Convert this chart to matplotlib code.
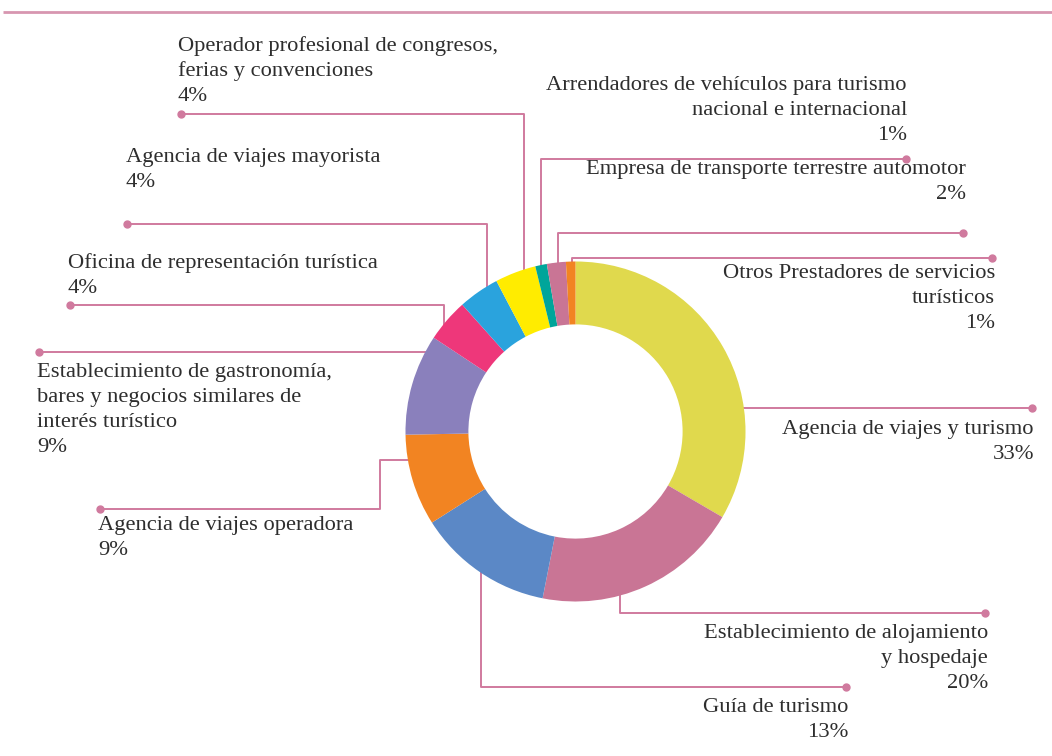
import numpy as np
import matplotlib
matplotlib.use("Agg")
import matplotlib.pyplot as plt

# slice shares (labels show the rounded figures)
categories = [
    "Agencia de viajes y turismo",
    "Establecimiento de alojamiento y hospedaje",
    "Guía de turismo",
    "Agencia de viajes operadora",
    "Establecimiento de gastronomía, bares y negocios similares de interés turístico",
    "Oficina de representación turística",
    "Agencia de viajes mayorista",
    "Operador profesional de congresos, ferias y convenciones",
    "Arrendadores de vehículos para turismo nacional e internacional",
    "Empresa de transporte terrestre automotor",
    "Otros Prestadores de servicios turísticos",
]
shares = [33.4, 19.7, 12.9, 8.7, 9.6, 4.1, 3.9, 3.9, 1.1, 1.8, 0.9]
pct_labels = ["33%", "20%", "13%", "9%", "9%", "4%", "4%", "4%", "1%", "2%", "1%"]

# label text broken the way it is set on the page
label_lines = [
    ["Agencia de viajes y turismo"],
    ["Establecimiento de alojamiento", "y hospedaje"],
    ["Guía de turismo"],
    ["Agencia de viajes operadora"],
    ["Establecimiento de gastronomía,", "bares y negocios similares de", "interés turístico"],
    ["Oficina de representación turística"],
    ["Agencia de viajes mayorista"],
    ["Operador profesional de congresos,", "ferias y convenciones"],
    ["Arrendadores de vehículos para turismo", "nacional e internacional"],
    ["Empresa de transporte terrestre automotor"],
    ["Otros Prestadores de servicios", "turísticos"],
]

colors = ["#E0D94D", "#C97595", "#5B88C6", "#F28422", "#8A80BC", "#EE377A",
          "#2AA3DD", "#FFEC00", "#00A59A", "#C97595", "#F28422"]

LINE = "#D07A9E"
TXT = "#2E2E2E"
cx, cy, R = 575.5, 431.5, 170
ring_w = 0.37

fig = plt.figure(figsize=(10.52, 7.56), dpi=100)
ax = fig.add_axes([0, 0, 1, 1])

ax.pie(shares, colors=colors, center=(cx, cy), radius=R, startangle=-90,
       counterclock=True, wedgeprops=dict(width=R * ring_w, linewidth=0))

ax.set_xlim(0, 1052)
ax.set_ylim(756, 0)
ax.set_aspect("equal")
ax.axis("off")

# top rule
ax.plot([3, 1052], [12, 12], color="#D796B0", lw=2, solid_capstyle="butt")


def edge_v(x, side):
    # y where a vertical line at x meets the outer edge
    return cy + side * np.sqrt(R ** 2 - (x - cx) ** 2)


def edge_h(y, side):
    return cx + side * np.sqrt(R ** 2 - (y - cy) ** 2)


# leader paths: (points, text anchor x, first baseline, ha)
leaders = [
    ([(edge_h(408, 1), 408), (1032, 408)], 1034, 434, "right"),
    ([(620, edge_v(620, 1)), (620, 613), (985, 613)], 988, 638, "right"),
    ([(481, edge_v(481, 1)), (481, 687), (846, 687)], 848, 712, "right"),
    ([(edge_h(460, -1), 460), (380, 460), (380, 509), (100, 509)], 98, 530, "left"),
    ([(edge_h(352, -1), 352), (39, 352)], 37, 377, "left"),
    ([(444, edge_v(444, -1)), (444, 305), (70, 305)], 68, 268, "left"),
    ([(487, edge_v(487, -1)), (487, 224), (127, 224)], 126, 162, "left"),
    ([(524, edge_v(524, -1)), (524, 114), (181, 114)], 178, 51, "left"),
    ([(541, edge_v(541, -1)), (541, 159), (906, 159)], 907, 90, "right"),
    ([(558, edge_v(558, -1)), (558, 233), (963, 233)], 966, 174, "right"),
    ([(572, edge_v(572, -1)), (572, 258), (992, 258)], 995, 278, "right"),
]

for (pts, tx, ty, ha), lines, pct in zip(leaders, label_lines, pct_labels):
    xs, ys = zip(*pts)
    ax.plot(xs, ys, color=LINE, lw=1.4, zorder=0)
    ax.plot(xs[-1], ys[-1], "o", color=LINE, ms=5, zorder=1)
    for i, s in enumerate(lines + [pct]):
        ax.text(tx, ty + i * 25, s, ha=ha, va="baseline", fontsize=16.2,
                family="Liberation Serif", color=TXT)

fig.savefig("out.png", dpi=100)
